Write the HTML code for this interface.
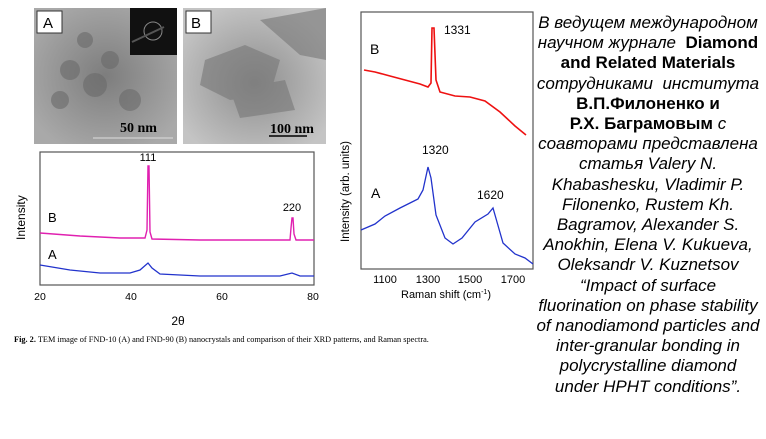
<!DOCTYPE html>
<html><head><meta charset="utf-8"><style>
body{margin:0;background:#fff;width:766px;height:439px;overflow:hidden;position:relative;font-family:"Liberation Sans",sans-serif}
.t{position:absolute;left:528px;top:13px;width:240px;text-align:center;font-style:italic;font-size:17px;line-height:20.2px;color:#000;white-space:nowrap}
.t b{font-style:normal}
</style></head><body>
<svg width="766" height="439" style="position:absolute;left:0;top:0" font-family="Liberation Sans, sans-serif">
<defs>
<radialGradient id="ga" cx="50%" cy="50%" r="60%"><stop offset="0" stop-color="#7d7d7d"/><stop offset="1" stop-color="#a9a9a9"/></radialGradient>
<radialGradient id="gb" cx="50%" cy="55%" r="60%"><stop offset="0" stop-color="#8e8e8e"/><stop offset="1" stop-color="#c4c4c4"/></radialGradient>
</defs>
<rect x="34" y="8" width="143" height="136" fill="url(#ga)"/>
<g fill="#6a6a6a" opacity=".6"><circle cx="70" cy="70" r="10"/><circle cx="95" cy="85" r="12"/><circle cx="60" cy="100" r="9"/><circle cx="130" cy="100" r="11"/><circle cx="110" cy="60" r="9"/><circle cx="85" cy="40" r="8"/></g>
<rect x="130" y="8" width="47" height="47" fill="#111"/>
<circle cx="153" cy="31" r="9" fill="none" stroke="#888" stroke-width="1"/><line x1="132" y1="42" x2="164" y2="27" stroke="#555" stroke-width="2"/>
<rect x="37" y="11" width="25" height="22" fill="#fff" stroke="#333"/><text x="43" y="28" font-size="15">A</text>
<text x="120" y="132" font-size="14" font-weight="bold" font-family="Liberation Serif, serif">50 nm</text>
<line x1="93" y1="138" x2="173" y2="138" stroke="#ddd"/>
<rect x="183" y="8" width="143" height="136" fill="url(#gb)"/>
<g fill="#777" opacity=".6"><polygon points="205,60 245,45 280,60 270,95 230,100 200,85"/><polygon points="230,90 285,80 295,110 240,118"/><polygon points="260,20 326,8 326,60 300,55"/></g>
<rect x="186" y="11" width="25" height="22" fill="#fff" stroke="#333"/><text x="191" y="28" font-size="15">B</text>
<text x="270" y="133" font-size="14" font-weight="bold" font-family="Liberation Serif, serif">100 nm</text>
<line x1="269" y1="136" x2="307" y2="136" stroke="#000" stroke-width="1.5"/>

<rect x="40" y="152" width="274" height="133" fill="#fff" stroke="#555" stroke-width="1.2"/>
<polyline fill="none" stroke="#e020b0" stroke-width="1.4" points="40,233 80,236 120,238 145,238 147,230 148,166 149,166 150,232 152,239 200,240 290,240 291,228 292,218 293,218 294,234 296,240 314,240"/>
<polyline fill="none" stroke="#2233cc" stroke-width="1.3" points="40,265 70,270 100,273 130,273 140,270 148,263 152,268 160,274 200,276 280,276 292,273 300,276 314,276"/>
<text x="148" y="161" font-size="11" text-anchor="middle">111</text>
<text x="292" y="211" font-size="11" text-anchor="middle">220</text>
<text x="48" y="222" font-size="13">B</text><text x="48" y="259" font-size="13">A</text>
<text transform="translate(25,240) rotate(-90)" font-size="12">Intensity</text>
<g font-size="10.5" text-anchor="middle"><text x="40" y="300">20</text><text x="131" y="300">40</text><text x="222" y="300">60</text><text x="313" y="300">80</text></g>
<text x="178" y="325" font-size="12" text-anchor="middle">2θ</text>
<text x="14" y="342" font-size="8.3" font-family="Liberation Serif, serif"><tspan font-weight="bold">Fig. 2.</tspan> TEM image of FND-10 (A) and FND-90 (B) nanocrystals and comparison of their XRD patterns, and Raman spectra.</text>

<rect x="361" y="12" width="172" height="257" fill="#fff" stroke="#555" stroke-width="1.2"/>
<polyline fill="none" stroke="#ee1111" stroke-width="1.6" points="364,70 375,72 390,76 405,80 420,84 428,87 431,83 432,28 434,28 436,80 440,92 455,96 470,97 485,101 500,112 515,126 526,135"/>
<polyline fill="none" stroke="#2233cc" stroke-width="1.3" points="361,230 375,224 385,216 400,208 410,203 418,199 423,190 428,167 431,178 436,215 445,238 453,244 462,238 475,222 488,214 493,208 497,222 503,243 515,254 525,258 533,264"/>
<text x="444" y="34" font-size="12">1331</text>
<text x="422" y="154" font-size="12">1320</text>
<text x="477" y="199" font-size="12">1620</text>
<text x="370" y="54" font-size="14">B</text><text x="371" y="198" font-size="14">A</text>
<text transform="translate(349,242) rotate(-90)" font-size="11.5">Intensity (arb. units)</text>
<g font-size="11" text-anchor="middle"><text x="385" y="283">1100</text><text x="428" y="283">1300</text><text x="470" y="283">1500</text><text x="513" y="283">1700</text></g>
<text x="446" y="298" font-size="11" text-anchor="middle">Raman shift (cm<tspan font-size="7" dy="-4">-1</tspan><tspan dy="4">)</tspan></text>
</svg>
<div class="t">В ведущем международном<br>научном журнале&nbsp; <b>Diamond</b><br><b>and Related Materials</b><br>сотрудниками&nbsp; института<br><b>В.П.Филоненко и</b><br><b>Р.Х. Баграмовым</b> с<br>соавторами представлена<br>статья Valery N.<br>Khabashesku, Vladimir P.<br>Filonenko, Rustem Kh.<br>Bagramov, Alexander S.<br>Anokhin, Elena V. Kukueva,<br>Oleksandr V. Kuznetsov<br>“Impact of surface<br>fluorination on phase stability<br>of nanodiamond particles and<br>inter-granular bonding in<br>polycrystalline diamond<br>under HPHT conditions”.</div>
</body></html>
